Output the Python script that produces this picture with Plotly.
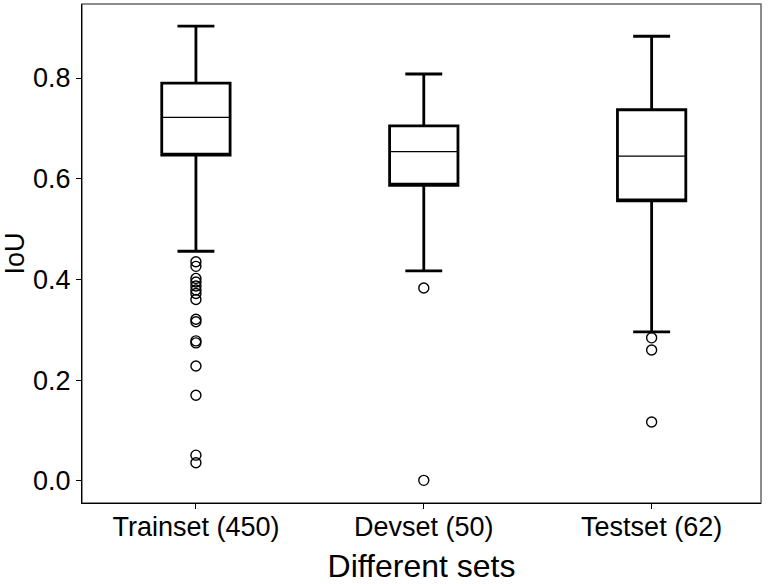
import plotly.graph_objects as go

categories = ["Trainset (450)", "Devset (50)", "Testset (62)"]
positions = [0, 1, 2]
q1 = [0.647, 0.587, 0.556]
median = [0.722, 0.654, 0.645]
q3 = [0.790, 0.705, 0.737]
lower_whisker = [0.456, 0.417, 0.296]
upper_whisker = [0.903, 0.808, 0.883]

train_outliers = [0.435, 0.426, 0.402, 0.395, 0.387, 0.379, 0.372, 0.360,
                  0.321, 0.316, 0.278, 0.274, 0.228, 0.170, 0.051, 0.036]
dev_outliers = [0.383, 0.001]
test_outliers = [0.284, 0.260, 0.117]
outliers = [train_outliers, dev_outliers, test_outliers]

y_ticks = [0.0, 0.2, 0.4, 0.6, 0.8]

FONT = "Liberation Sans, Arial, Helvetica, sans-serif"

fig = go.Figure()

# boxes (thick outline, whiskers with caps); median drawn separately as thin line
fig.add_trace(go.Box(
    x=positions,
    q1=q1, median=q1, q3=q3,
    lowerfence=lower_whisker, upperfence=upper_whisker,
    width=0.3, whiskerwidth=0.54,
    fillcolor="white",
    line=dict(color="black", width=2.8),
    boxpoints=False, hoverinfo="skip", showlegend=False,
))

# thin median lines
fig.add_trace(go.Box(
    x=positions,
    q1=median, median=median, q3=median,
    lowerfence=median, upperfence=median,
    width=0.3, whiskerwidth=0,
    fillcolor="rgba(0,0,0,0)",
    line=dict(color="black", width=1.3),
    boxpoints=False, hoverinfo="skip", showlegend=False,
))

ox, oy = [], []
for p, vals in zip(positions, outliers):
    ox += [p] * len(vals)
    oy += vals
fig.add_trace(go.Scatter(
    x=ox, y=oy, mode="markers",
    marker=dict(symbol="circle-open", size=10, color="black", line=dict(width=1.4)),
    hoverinfo="skip", showlegend=False,
))

fig.add_shape(type="rect", xref="paper", yref="paper", x0=0, x1=1, y0=0, y1=1,
              line=dict(color="#666666", width=1.5), layer="below")

fig.update_layout(
    width=768, height=584,
    margin=dict(l=82, r=7, t=4, b=81, autoexpand=False),
    paper_bgcolor="white", plot_bgcolor="white",
    font=dict(family=FONT, color="black", size=27),
    showlegend=False,
    xaxis=dict(
        range=[-0.5, 2.48], automargin=False,
        tickmode="array", tickvals=positions, ticktext=categories,
        ticks="outside", ticklen=5, tickcolor="black", tickwidth=1,
        showline=True, linecolor="black", linewidth=1,
        showgrid=False, zeroline=False,
        tickfont=dict(size=27), ticklabelstandoff=-5,
        title=dict(text="Different sets", font=dict(size=32), standoff=13),
    ),
    yaxis=dict(
        range=[-0.044, 0.947], automargin=False,
        tickmode="array", tickvals=y_ticks, ticktext=[f"{v:.1f}" for v in y_ticks],
        ticks="outside", ticklen=5, tickcolor="black", tickwidth=1,
        showline=True, linecolor="black", linewidth=1,
        showgrid=False, zeroline=False,
        tickfont=dict(size=27),
        title=dict(text="IoU", font=dict(size=27), standoff=0),
    ),
)

fig.write_html("out.html", config={"displayModeBar": False},
               post_script="document.body.style.margin='0';")
